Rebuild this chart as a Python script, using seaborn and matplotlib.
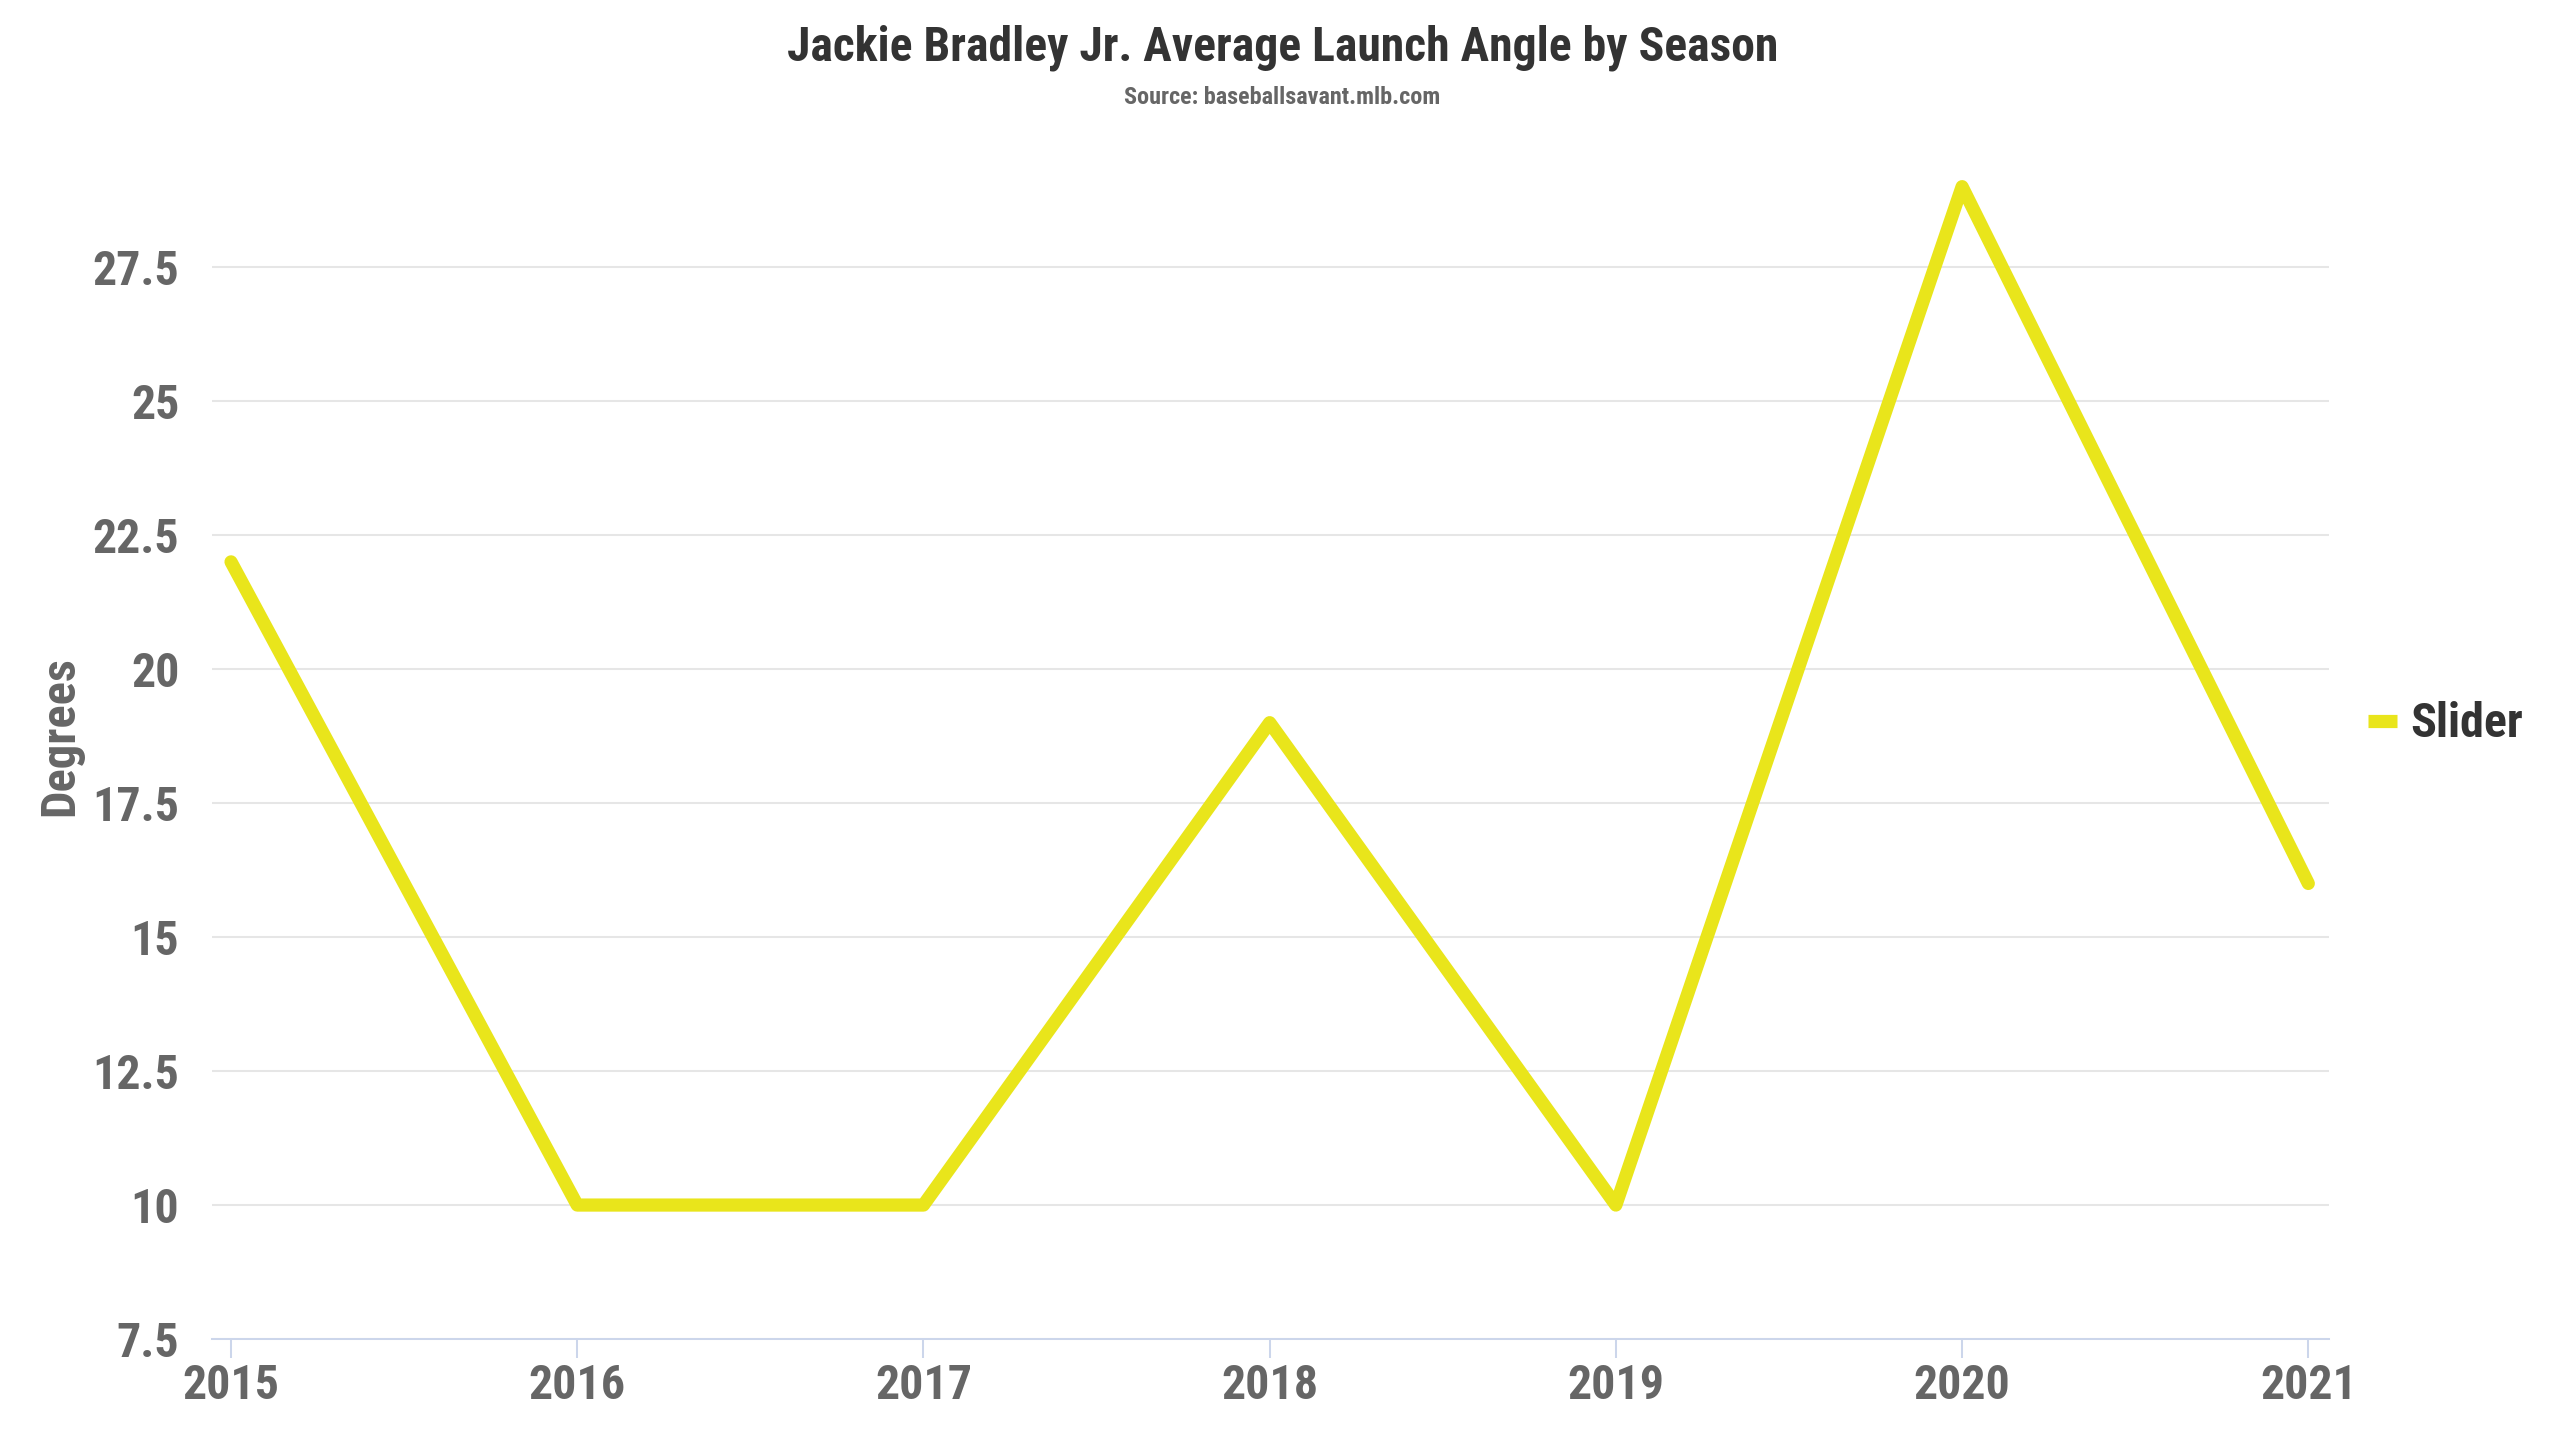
import matplotlib
matplotlib.use("Agg")
import matplotlib.pyplot as plt
from matplotlib.lines import Line2D
import seaborn as sns
import pandas as pd

# data
seasons = [2015, 2016, 2017, 2018, 2019, 2020, 2021]
launch_angle = [22, 10, 10, 19, 10, 29, 16]
series_name = "Slider"
y_ticks = [7.5, 10, 12.5, 15, 17.5, 20, 22.5, 25, 27.5]
y_tick_labels = ["7.5", "10", "12.5", "15", "17.5", "20", "22.5", "25", "27.5"]

LINE_COLOR = "#e9e51b"

df = pd.DataFrame({"Season": seasons, "Degrees": launch_angle, "Pitch": series_name})

sns.set_theme(style="white")
plt.rcParams["font.family"] = ["Roboto Condensed", "Roboto", "DejaVu Sans"]
plt.rcParams["font.weight"] = "bold"

fig = plt.figure(figsize=(25.6, 14.4), dpi=100)
ax = fig.add_axes([0.0828, 0.0701, 0.827, 0.8375])

sns.lineplot(data=df, x="Season", y="Degrees", hue="Pitch", palette=[LINE_COLOR],
             linewidth=9.5, ax=ax, legend=False,
             solid_capstyle="round", solid_joinstyle="round", zorder=3)

ax.set_xlim(2015 - 0.055, 2021 + 0.06)
ax.set_ylim(7.5, 30)
ax.set_xticks(seasons)
ax.set_xticklabels([str(s) for s in seasons])
ax.set_yticks(y_ticks)
ax.set_yticklabels(y_tick_labels)

ax.grid(axis="y", color="#e6e6e6", linewidth=1.45, zorder=0)
ax.grid(axis="x", visible=False)
for side in ["top", "right", "left"]:
    ax.spines[side].set_visible(False)
ax.spines["bottom"].set_color("#ccd6eb")
ax.spines["bottom"].set_linewidth(1.45)

ax.tick_params(axis="x", which="major", bottom=True, length=13.5, width=1.45,
               color="#ccd6eb", labelsize=34.5, labelcolor="#666666", pad=4)
ax.tick_params(axis="y", left=False, labelsize=34.5, labelcolor="#666666", pad=17.5)
for lab in ax.get_xticklabels() + ax.get_yticklabels():
    lab.set_fontweight("bold")

ax.set_xlabel("")
ax.set_ylabel("Degrees", fontsize=35, color="#666666", fontweight="bold")
ax.yaxis.set_label_coords(-0.061, 0.5)

fig.text(0.501, 0.967, "Jackie Bradley Jr. Average Launch Angle by Season",
         ha="center", va="center", fontsize=34.3, fontweight="bold", color="#333333")
fig.text(0.501, 0.932, "Source: baseballsavant.mlb.com",
         ha="center", va="center", fontsize=17.4, fontweight="bold", color="#666666")

# legend to the right of the plot area, centred on the figure height
handle = Line2D([0], [0], color=LINE_COLOR, linewidth=9.5, solid_capstyle="butt")
leg = fig.legend([handle], [series_name], loc="center left", bbox_to_anchor=(0.925, 0.497),
                 frameon=False, borderpad=0, borderaxespad=0, handlelength=0.6,
                 handletextpad=0.27, prop={"size": 34.6, "weight": "bold"})
for t in leg.get_texts():
    t.set_color("#333333")

fig.savefig("out.png", dpi=100, facecolor="white")
